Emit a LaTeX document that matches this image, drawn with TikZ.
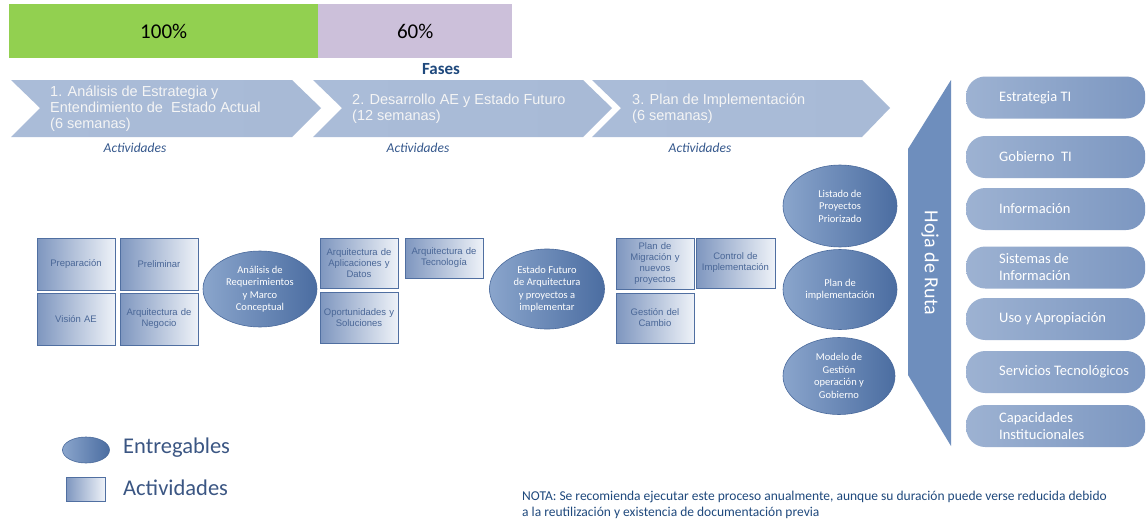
\documentclass[tikz,border=0pt]{standalone}
\usepackage{fontspec}
\setmainfont{Carlito}
\newfontfamily\arialf{Liberation Sans}
\usetikzlibrary{shapes.geometric}
\definecolor{barGreen}{HTML}{92D050}
\definecolor{barPurple}{HTML}{CCC0DA}
\definecolor{navyT}{HTML}{1F497D}
\definecolor{actLab}{HTML}{34578C}
\definecolor{chevL}{HTML}{AABCD8}
\definecolor{chevM}{HTML}{85A0C6}
\definecolor{chevR}{HTML}{A8BAD6}
\definecolor{actL}{HTML}{7E96BF}
\definecolor{actR}{HTML}{EEF2F8}
\definecolor{actBorder}{HTML}{506FA1}
\definecolor{actText}{HTML}{4A6797}
\definecolor{delL}{HTML}{8AA5CC}
\definecolor{delR}{HTML}{4B6DA1}
\definecolor{delBorder}{HTML}{4A6A9C}
\definecolor{hojaC}{HTML}{6E8EBD}
\definecolor{mapL}{HTML}{9DB2D2}
\definecolor{mapR}{HTML}{7C97C1}
\definecolor{legText}{HTML}{3B5683}
\begin{document}
\begin{tikzpicture}[x=1pt,y=-1pt,
  pctbox/.style={inner sep=0pt, anchor=north west, minimum height=54pt, font=\fontsize{21}{24}\selectfont, text=black},
  phase/.style={anchor=west, inner sep=0pt, align=left, text=white!96!black, font=\arialf\fontsize{14.5}{16}\selectfont},
  actlabel/.style={text=actLab, inner sep=0pt, font=\itshape\fontsize{13.5}{15}\selectfont},
  chev/.style={left color=chevL, middle color=chevM, right color=chevR},
  actbox/.style={draw=actBorder, line width=0.6pt, left color=actL, right color=actR, minimum width=78pt, minimum height=51pt, inner sep=1pt, text width=76pt, align=center, text=actText, font=\arialf\fontsize{9.5}{11}\selectfont},
  deliv/.style={ellipse, draw=delBorder, line width=0.6pt, left color=delL, right color=delR, inner sep=0pt, minimum width=114pt, minimum height=78pt},
  delivtext/.style={text=white, align=center, inner sep=0pt, font=\fontsize{10.5}{12.5}\selectfont},
  mapbox/.style={rectangle, rounded corners=19pt, left color=mapL, right color=mapR, minimum width=179pt, minimum height=42pt, anchor=west, inner sep=0pt},
  maptext/.style={anchor=west, inner sep=0pt, align=left, text=white, font=\fontsize{14.5}{17}\selectfont},
  legtext/.style={anchor=west, inner sep=0pt, text=legText, font=\fontsize{22.5}{25}\selectfont},
]
\useasboundingbox (0,0) rectangle (1146,522);
\fill[white] (0,0) rectangle (1146,522);

% progress bars
\node[pctbox, fill=barGreen, minimum width=309pt] (pct1) at (9,4) {100\%};
\node[pctbox, fill=barPurple, minimum width=194pt] (pct2) at (318,4) {60\%};

\node[text=navyT, inner sep=0pt, font=\bfseries\fontsize{17}{19}\selectfont] (fases) at (441,69) {Fases};

% chevrons
\path[chev] (11,80) -- (292,80) -- (321,108) -- (292,137) -- (11,137) -- (40,108) -- cycle;
\path[chev] (313,80) -- (583,80) -- (612,108) -- (583,137) -- (313,137) -- (342,108) -- cycle;
\path[chev] (592,80) -- (862,80) -- (890,108) -- (862,137) -- (592,137) -- (621,108) -- cycle;
\node[phase] (ph1) at (50,109) {1. Análisis de Estrategia y\\Entendimiento de\ \ Estado Actual\\(6 semanas)};
\node[phase] (ph2) at (352,109) {2. Desarrollo AE y Estado Futuro\\(12 semanas)};
\node[phase] (ph3) at (632,109) {3. Plan de Implementación\\(6 semanas)};

\node[actlabel] (act1) at (135,148) {Actividades};
\node[actlabel] (act2) at (418,148) {Actividades};
\node[actlabel] (act3) at (700,148) {Actividades};

% activity boxes
\node[actbox, minimum height=52pt] (prep) at (76,264) {Preparación};
\node[actbox, minimum height=52pt] (prel) at (159,264) {Preliminar};
\node[actbox, minimum height=52pt] (vision) at (76,319) {Visión AE};
\node[actbox, minimum height=52pt] (negocio) at (159,319) {Arquitectura de\\Negocio};
\node[actbox, minimum height=50pt] (aplic) at (359,263) {Arquitectura de\\Aplicaciones y\\Datos};
\node[actbox, minimum height=40pt] (tecno) at (444,258) {Arquitectura de\\Tecnología};
\node[actbox, minimum height=51pt] (oport) at (359,317.5) {Oportunidades y\\Soluciones};
\node[actbox, minimum height=51pt] (migr) at (655,263.5) {Plan de\\Migración y\\nuevos\\proyectos};
\node[actbox, minimum height=50pt, minimum width=79pt] (ctrl) at (735.5,263) {Control de\\Implementación};
\node[actbox, minimum height=50pt] (gest) at (655,318) {Gestión del\\Cambio};

% deliverables
\node[deliv, minimum height=76pt] (req) at (260,289) {};
\node[delivtext] (reqT) at (req.center) {Análisis de\\Requerimientos\\y Marco\\Conceptual};
\node[deliv, minimum width=115pt, minimum height=80pt] (fut) at (547,289) {};
\node[delivtext] (futT) at (fut.center) {Estado Futuro\\de Arquitectura\\y proyectos a\\implementar};
\node[deliv, minimum height=82pt] (list) at (840,206) {};
\node[delivtext] (listT) at (list.center) {Listado de\\Proyectos\\Priorizado};
\node[deliv, minimum height=80pt] (plan) at (840,289.5) {};
\node[delivtext] (planT) at (plan.center) {Plan de\\implementación};
\node[deliv, minimum width=112pt, minimum height=77pt] (mod) at (839,376) {};
\node[delivtext] (modT) at (mod.center) {Modelo de\\Gestión\\operación y\\Gobierno};

% hoja de ruta
\fill[hojaC] (951,80) -- (951,446) -- (908,375) -- (908,149) -- cycle;
\node[text=white, inner sep=0pt, rotate=-90, font=\fontsize{20}{24}\selectfont] (hoja) at (930,263) {Hoja de Ruta};

% right boxes
\node[mapbox] (m1) at (966,97.5) {};
\node[maptext] (m1t) at ([xshift=33pt]m1.west) {Estrategia TI};
\node[mapbox] (m2) at (966,157) {};
\node[maptext] (m2t) at ([xshift=33pt]m2.west) {Gobierno\ \ TI};
\node[mapbox] (m3) at (966,209) {};
\node[maptext] (m3t) at ([xshift=33pt]m3.west) {Información};
\node[mapbox] (m4) at (966,267.5) {};
\node[maptext] (m4t) at ([xshift=33pt]m4.west) {Sistemas de\\Información};
\node[mapbox] (m5) at (966,319) {};
\node[maptext] (m5t) at ([xshift=33pt]m5.west) {Uso y Apropiación};
\node[mapbox] (m6) at (966,372) {};
\node[maptext] (m6t) at ([xshift=33pt]m6.west) {Servicios Tecnológicos};
\node[mapbox] (m7) at (966,426) {};
\node[maptext] (m7t) at ([xshift=33pt]m7.west) {Capacidades\\Institucionales};

% legend
\node[ellipse, draw=delBorder, line width=0.6pt, left color=delL, right color=delR, inner sep=0pt, minimum width=47pt, minimum height=26pt] (legE) at (86,450) {};
\node[legtext] (legEt) at (123,448) {Entregables};
\node[draw=actBorder, line width=0.6pt, left color=actL, right color=actR, inner sep=0pt, minimum width=39pt, minimum height=24pt] (legA) at (85.5,489) {};
\node[legtext] (legAt) at (123,488) {Actividades};

% note
\node[anchor=west, align=left, inner sep=0pt, text=navyT, font=\fontsize{13.5}{15.5}\selectfont] (nota) at (522,505) {NOTA: Se recomienda ejecutar este proceso anualmente, aunque su duración puede verse reducida debido\\a la reutilización y existencia de documentación previa};
\end{tikzpicture}
\end{document}
